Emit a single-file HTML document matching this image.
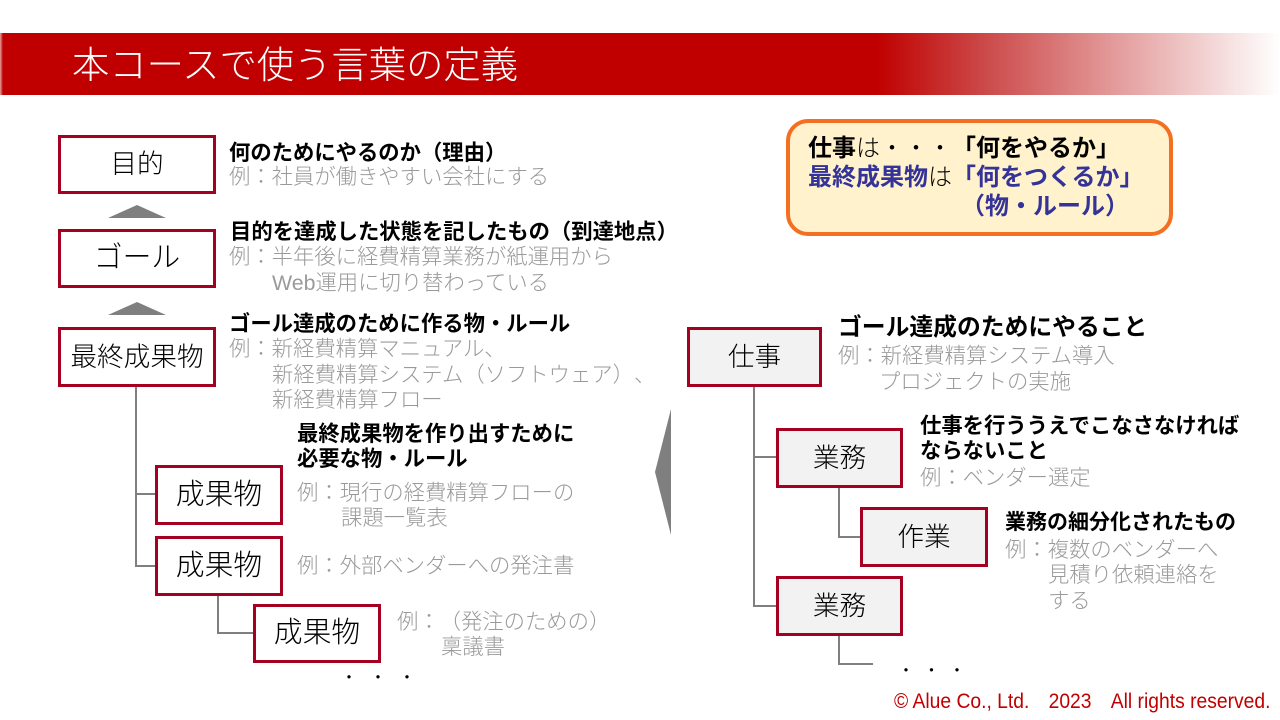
<!DOCTYPE html>
<html lang="ja"><head><meta charset="utf-8">
<style>
html,body{margin:0;padding:0;background:#fff}
#p{position:relative;width:1280px;height:720px;overflow:hidden;background:#fff;font-family:"Liberation Sans","Noto Sans CJK JP",sans-serif;text-spacing-trim:space-all;font-feature-settings:"chws" 0}
.t{position:absolute;white-space:nowrap;line-height:26px;font-size:21.33px;color:#000}
.g{color:#9a9a9a;font-weight:300}
.b{font-weight:bold}
.box{position:absolute;box-sizing:border-box;border:3px solid #a50021;background:#fff;display:flex;align-items:center;justify-content:center;font-size:26.67px;font-weight:300;color:#000;white-space:nowrap;padding-bottom:6px}
.f{background:#f2f2f2}
</style></head><body><div id="p">
<div style="position:absolute;left:0;top:33px;width:1280px;height:62px;background:linear-gradient(90deg,#e8a0a0 0,#c00000 3px,#c00000 68.5%,#cc4a4a 77%,#e39a9a 87%,#fff 100%)"></div>
<div class="t" style="left:72px;top:41px;line-height:48px;font-size:37.33px;font-weight:300;color:#fff">本コースで使う言葉の定義</div>

<svg width="1280" height="720" style="position:absolute;left:0;top:0">
<g fill="none" stroke="#7f7f7f" stroke-width="2">
<path d="M136 387V566H155M136 494H155M218 596V633H253"/>
<path d="M754 387V606H776M754 457H776M839 488V537H860M839 636V664H873"/>
</g>
<g fill="#7f7f7f">
<path d="M137 205L166 218H108Z"/>
<path d="M137 302L166 315H108Z"/>
<path d="M655 472L671 409V535Z"/>
</g>
</svg>

<div class="box" style="left:58px;top:135px;width:158px;height:59px">目的</div>
<div class="box" style="left:58px;top:229px;width:158px;height:59px;font-size:28.8px">ゴール</div>
<div class="box" style="left:58px;top:327px;width:158px;height:60px">最終成果物</div>
<div class="box" style="left:155px;top:465px;width:128px;height:60px;font-size:28.8px">成果物</div>
<div class="box" style="left:155px;top:536px;width:128px;height:60px;font-size:28.8px">成果物</div>
<div class="box" style="left:253px;top:604px;width:128px;height:59px;font-size:28.8px">成果物</div>
<div class="box f" style="left:687px;top:327px;width:135px;height:60px">仕事</div>
<div class="box f" style="left:776px;top:428px;width:127px;height:60px">業務</div>
<div class="box f" style="left:860px;top:507px;width:128px;height:60px">作業</div>
<div class="box f" style="left:776px;top:576px;width:127px;height:60px">業務</div>

<div class="t b" style="left:229px;top:140px">何のためにやるのか（理由）</div>
<div class="t g" style="left:229px;top:164px">例：社員が働きやすい会社にする</div>
<div class="t b" style="left:230px;top:219px">目的を達成した状態を記したもの（到達地点）</div>
<div class="t g" style="left:229px;top:244px">例：半年後に経費精算業務が紙運用から</div>
<div class="t g" style="left:272px;top:270px">Web運用に切り替わっている</div>
<div class="t b" style="left:229px;top:311px">ゴール達成のために作る物・ルール</div>
<div class="t g" style="left:229px;top:336px">例：新経費精算マニュアル、</div>
<div class="t g" style="left:272px;top:362px">新経費精算システム（ソフトウェア）、</div>
<div class="t g" style="left:272px;top:387px">新経費精算フロー</div>
<div class="t b" style="left:297px;top:421px">最終成果物を作り出すために</div>
<div class="t b" style="left:297px;top:446px">必要な物・ルール</div>
<div class="t g" style="left:297px;top:480px">例：現行の経費精算フローの</div>
<div class="t g" style="left:341px;top:505px">課題一覧表</div>
<div class="t g" style="left:297px;top:553px">例：外部ベンダーへの発注書</div>
<div class="t g" style="left:397px;top:609px">例：（発注のための）</div>
<div class="t g" style="left:441px;top:634px">稟議書</div>
<div class="t" style="left:341px;top:666px;font-size:16px;letter-spacing:13px">・・・</div>

<div class="t b" style="left:838px;top:315px;font-size:23.8px">ゴール達成のためにやること</div>
<div class="t g" style="left:838px;top:343px">例：新経費精算システム導入</div>
<div class="t g" style="left:879px;top:369px">プロジェクトの実施</div>
<div class="t b" style="left:920px;top:413px">仕事を行ううえでこなさなければ</div>
<div class="t b" style="left:920px;top:438px">ならないこと</div>
<div class="t g" style="left:920px;top:465px">例：ベンダー選定</div>
<div class="t b" style="left:1005px;top:510px;font-size:21px">業務の細分化されたもの</div>
<div class="t g" style="left:1005px;top:537px">例：複数のベンダーへ</div>
<div class="t g" style="left:1048px;top:562px">見積り依頼連絡を</div>
<div class="t g" style="left:1048px;top:588px">する</div>
<div class="t" style="left:898px;top:659px;font-size:16px;letter-spacing:9.5px">・・・</div>

<div style="position:absolute;box-sizing:border-box;left:786px;top:119px;width:387px;height:117px;border:4px solid #f36f21;border-radius:22px;background:#fff2cc"></div>
<div class="t" style="left:808px;top:134px;font-size:24px;line-height:29px"><b>仕事</b><span style="font-weight:300">は・・・</span><b>「何をやるか」</b></div>
<div class="t" style="left:808px;top:163px;font-size:24px;line-height:29px;color:#333399"><b>最終成果物</b><span style="color:#000;font-weight:300">は</span><b>「何をつくるか」</b></div>
<div class="t" style="left:961px;top:192px;font-size:24px;line-height:29px;color:#333399"><b>（物・ルール）</b></div>

<div class="t" style="left:894px;top:689px;font-size:21.33px;line-height:24px;font-weight:300;color:#c00000;transform-origin:0 50%;transform:scaleX(.904)">© Alue Co., Ltd.　2023　All rights reserved.</div>
</div></body></html>
